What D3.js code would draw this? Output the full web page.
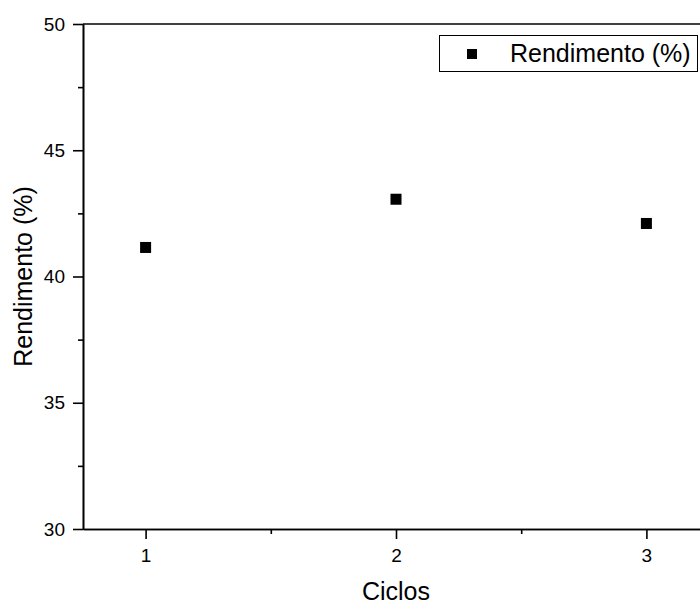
<!DOCTYPE html>
<html>
<head>
<meta charset="utf-8">
<script src="https://cdn.jsdelivr.net/npm/d3@7"></script>
<style>
  body { margin: 0; background: #fff; }
  svg { font-family: Arial, "Liberation Sans", sans-serif; }
</style>
</head>
<body>
<div id="chart"></div>
<script>
// Data
var ciclos = [1, 2, 3];
var rendimento = [41.15, 43.06, 42.1];
var xTicks = [1, 2, 3],
    xMinor = [1.5, 2.5];
var yTicks = [30, 35, 40, 45, 50],
    yMinor = [32.5, 37.5, 42.5, 47.5];
var legendLabel = "Rendimento (%)";

var w = 700,
    h = 605;

var svg = d3.select("#chart")
  .append("svg")
  .attr("width", w)
  .attr("height", h);

var x = d3.scaleLinear().domain([0.75, 3.25]).range([83, 709]);
var y = d3.scaleLinear().domain([30, 50]).range([529, 24]);

// frame top line (right side falls off the page)
svg.append("line")
  .attr("x1", x(0.75)).attr("x2", x(3.25))
  .attr("y1", y(50)).attr("y2", y(50))
  .attr("stroke", "#000")
  .attr("stroke-width", 1.6);

// x axis
svg.append("g")
  .attr("transform", "translate(0," + y(30) + ")")
  .call(d3.axisBottom(x).tickValues(xTicks).tickFormat(d3.format("d")).tickSize(10).tickPadding(10).tickSizeOuter(0));
svg.append("g")
  .attr("transform", "translate(0," + y(30) + ")")
  .call(d3.axisBottom(x).tickValues(xMinor).tickFormat("").tickSize(5).tickSizeOuter(0));

// y axis
svg.append("g")
  .attr("transform", "translate(" + x(0.75) + ",0)")
  .call(d3.axisLeft(y).tickValues(yTicks).tickSize(10).tickPadding(8).tickSizeOuter(0));
svg.append("g")
  .attr("transform", "translate(" + x(0.75) + ",0)")
  .call(d3.axisLeft(y).tickValues(yMinor).tickFormat("").tickSize(5).tickSizeOuter(0));

svg.selectAll(".domain, .tick line")
  .attr("stroke", "#000")
  .attr("stroke-width", 1.6);
svg.selectAll(".tick text")
  .style("font-size", "19px")
  .attr("fill", "#000")
  .style("font-family", "Arial, 'Liberation Sans', sans-serif");

// axis titles
svg.append("text")
  .attr("x", x(2))
  .attr("y", 600)
  .attr("text-anchor", "middle")
  .style("font-size", "25px")
  .text("Ciclos");

svg.append("text")
  .attr("transform", "translate(32," + (y(30) + y(50)) / 2 + ") rotate(-90)")
  .attr("text-anchor", "middle")
  .style("font-size", "25px")
  .text("Rendimento (%)");

// points
svg.selectAll("rect.pt")
  .data(ciclos)
  .enter()
  .append("rect")
  .attr("class", "pt")
  .attr("x", function(d) { return x(d) - 5.5; })
  .attr("y", function(d, i) { return y(rendimento[i]) - 5.5; })
  .attr("width", 11)
  .attr("height", 11)
  .attr("fill", "#000");

// legend
var legend = svg.append("g")
  .attr("transform", "translate(439,35)");
legend.append("rect")
  .attr("x", 0.5).attr("y", 0.5)
  .attr("width", 258).attr("height", 36)
  .attr("fill", "#fff")
  .attr("stroke", "#000")
  .attr("stroke-width", 1);
legend.append("rect")
  .attr("x", 28).attr("y", 14)
  .attr("width", 10).attr("height", 10)
  .attr("fill", "#000");
legend.append("text")
  .attr("x", 71)
  .attr("y", 27)
  .style("font-size", "25px")
  .text(legendLabel);
</script>
</body>
</html>
